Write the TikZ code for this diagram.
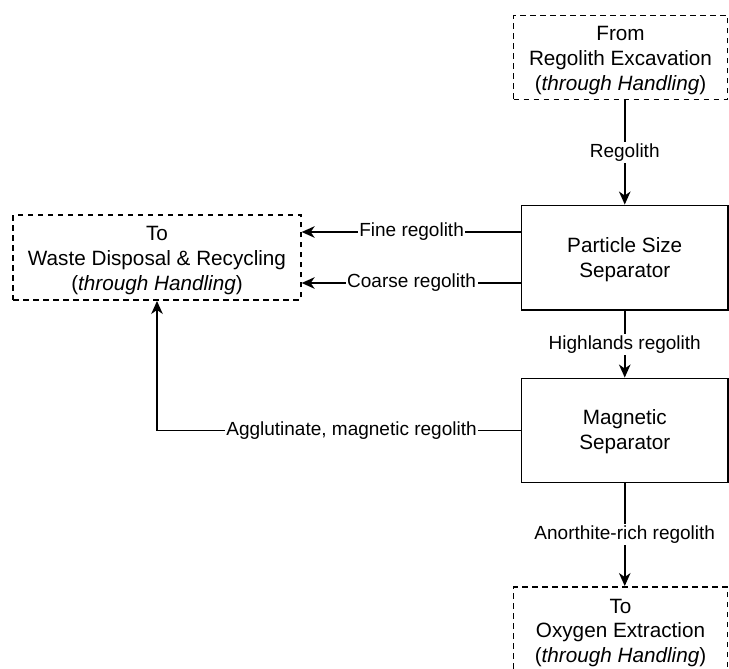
\documentclass[tikz,border=0pt]{standalone}
\usepackage{fontspec}
\setmainfont{Liberation Sans}
\usetikzlibrary{arrows.meta}
\begin{document}
\begin{tikzpicture}[x=1pt,y=-1pt,
  box/.style={draw, line width=1.9pt, inner sep=0pt},
  ext/.style={box, dash pattern=on 5.5pt off 4.5pt},
  txt/.style={align=center, inner sep=0pt, yshift=-3pt,
    font=\fontsize{20.7}{24.8}\selectfont},
  lbl/.style={fill=white, inner sep=1.5pt, font=\fontsize{19}{22.8}\selectfont},
  arr/.style={line width=1.9pt, -{Stealth[length=13pt,width=11.5pt,inset=4pt]}}]
\useasboundingbox (0,0) rectangle (729,669);

% terminals
\node[ext, minimum width=214pt, minimum height=84pt,
  label={[txt]center:From\\Regolith Excavation\\(\textit{through Handling})}]
  (from) at (620.5,57.5) {};
\node[ext, minimum width=287.4pt, minimum height=85pt,
  label={[txt]center:To\\Waste Disposal \& Recycling\\(\textit{through Handling})}]
  (waste) at (157,257.5) {};
\node[ext, minimum width=214pt, minimum height=86pt,
  label={[txt]center:To\\Oxygen Extraction\\(\textit{through Handling})}]
  (oxy) at (620.5,630) {};

% separators
\node[box, minimum width=206.5pt, minimum height=104.5pt,
  label={[txt, yshift=1.5pt]center:Particle Size\\Separator}]
  (pss) at (624.75,257.75) {};
\node[box, minimum width=206.5pt, minimum height=104pt,
  label={[txt, yshift=1.5pt]center:Magnetic\\Separator}]
  (mag) at (624.75,430.5) {};

% side exits of the size separator
\coordinate (fine) at (521.5,232);
\coordinate (coarse) at (521.5,283);

\draw[arr] (from.south -| pss.north) -- node[lbl] {Regolith} (pss.north);
\draw[arr] (fine) -- node[lbl] {Fine regolith} (fine -| waste.east);
\draw[arr] (coarse) -- node[lbl] {Coarse regolith} (coarse -| waste.east);
\draw[arr] (pss.south) -- node[lbl] {Highlands regolith} (mag.north);
\draw[arr] (mag.west) -| node[lbl, pos=0.2325] {Agglutinate, magnetic regolith} (waste.south);
\draw[arr] (mag.south) -- node[lbl] {Anorthite-rich regolith} (oxy.north -| mag.south);
\end{tikzpicture}
\end{document}
